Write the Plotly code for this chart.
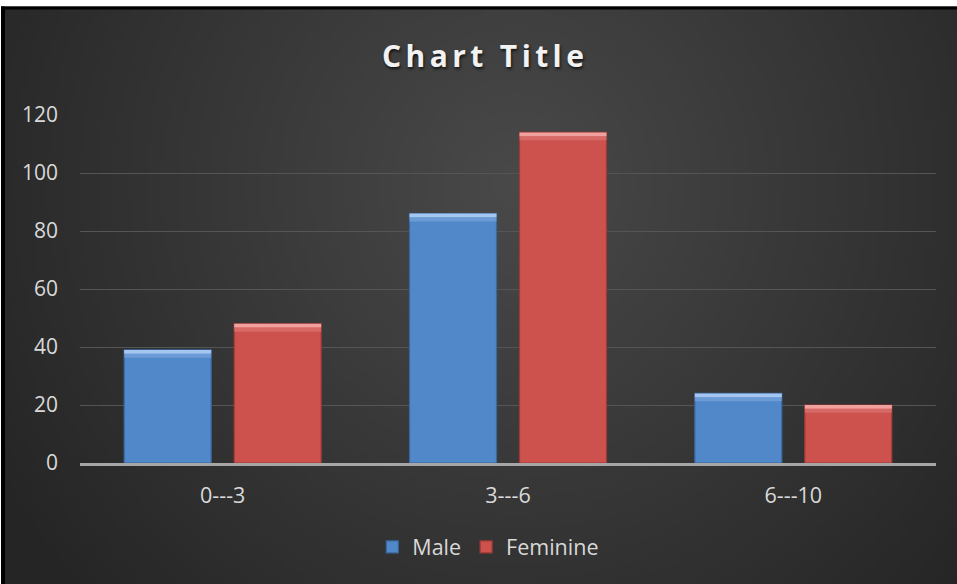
import base64, struct, zlib, math
import plotly.graph_objects as go

# ---- data ----
categories = ["0---3", "3---6", "6---10"]
male = [39, 86, 24]
feminine = [48, 114, 20]
series_names = ["Male", "Feminine"]
y_ticks = [0, 20, 40, 60, 80, 100, 120]
title_text = "Chart Title"

# ---- layout constants ----
W, H = 957, 584
ML, MR, MT, MB = 80, 21, 115, 121
PW, PH = W - ML - MR, H - MT - MB


def px_to_paper_x(px):
    return (px - ML) / PW


def px_to_paper_y(py):
    return (H - MB - py) / PH


# ---- radial gradient background as png ----
def make_png(w, h):
    rows = []
    cx, cy = 0.53, 0.30
    for j in range(h):
        row = bytearray([0])
        for i in range(w):
            nx, ny = i / (w - 1), j / (h - 1)
            d = math.sqrt(((nx - cx) / 0.62) ** 2 + ((ny - cy) / 1.05) ** 2)
            d = min(1.0, d)
            v = int(round(73 - (73 - 37) * d))
            row += bytes([v, v, v])
        rows.append(bytes(row))
    raw = b"".join(rows)

    def chunk(t, data):
        c = struct.pack(">I", len(data)) + t + data
        return c + struct.pack(">I", zlib.crc32(t + data) & 0xffffffff)

    png = b"\x89PNG\r\n\x1a\n"
    png += chunk(b"IHDR", struct.pack(">IIBBBBB", w, h, 8, 2, 0, 0, 0))
    png += chunk(b"IDAT", zlib.compress(raw, 9))
    png += chunk(b"IEND", b"")
    return "data:image/png;base64," + base64.b64encode(png).decode()


bg_src = make_png(200, 122)

blue, blue_line, blue_hi, blue_hi2 = "#5088c9", "#3a679f", "#a4c6f0", "#7ea8dd"
red, red_line, red_hi, red_hi2 = "#cd514d", "#9c3a37", "#f0a19d", "#dd7c78"

fig = go.Figure()
for name, vals, col, lc, hi, hi2, grp in [
    (series_names[0], male, blue, blue_line, blue_hi, blue_hi2, "m"),
    (series_names[1], feminine, red, red_line, red_hi, red_hi2, "f"),
]:
    fig.add_trace(go.Bar(
        x=categories, y=vals, name=name, offsetgroup=grp,
        marker=dict(color=col, line=dict(color=lc, width=1.2)),
    ))
    # bevel highlight strips at the top of each bar
    fig.add_trace(go.Bar(
        x=categories, y=[1.3] * len(vals), base=[v - 1.3 for v in vals],
        offsetgroup=grp, showlegend=False, hoverinfo="skip",
        marker=dict(color=hi, line=dict(width=0)),
    ))
    fig.add_trace(go.Bar(
        x=categories, y=[1.4] * len(vals), base=[v - 2.7 for v in vals],
        offsetgroup=grp, showlegend=False, hoverinfo="skip",
        marker=dict(color=hi2, opacity=0.6, line=dict(width=0)),
    ))

font_family = "Open Sans, Noto Sans, sans-serif"

fig.update_layout(
    width=W, height=H,
    margin=dict(l=ML, r=MR, t=MT, b=MB, pad=0),
    paper_bgcolor="#262626", plot_bgcolor="rgba(0,0,0,0)",
    barmode="group", bargap=0.229, bargroupgap=0.209,
    font=dict(family=font_family, color="#d9d9d9", size=21),
    title=dict(
        text='<span style="letter-spacing:4.4px">' + title_text + '</span>',
        x=0.507, xanchor="center", y=1 - 56 / H, yanchor="middle",
        font=dict(family=font_family, size=30, color="#f2f2f2", weight="bold",
                  shadow="1px 2px 3px rgba(0,0,0,0.7)"),
    ),
    showlegend=True,
    legend=dict(orientation="h", x=0.477, xanchor="center", y=px_to_paper_y(547),
                yanchor="middle", font=dict(size=21.5, color="#d9d9d9"),
                bgcolor="rgba(0,0,0,0)", itemwidth=30, traceorder="normal"),
    xaxis=dict(showgrid=False, showline=True, linecolor="#a6a6a6", linewidth=2.5,
               ticks="", tickfont=dict(size=21.5, color="#d9d9d9"), ticklabelstandoff=11,
               zeroline=False),
    yaxis=dict(range=[0, 120], tickvals=y_ticks, showgrid=True, gridcolor="#555555",
               gridwidth=1, zeroline=False, showline=False, ticks="",
               tickfont=dict(size=21, color="#d9d9d9"), ticklabelstandoff=21),
    images=[dict(source=bg_src, xref="paper", yref="paper",
                 x=px_to_paper_x(5), y=px_to_paper_y(9),
                 sizex=(W + 10 - 5) / PW, sizey=(H + 10 - 9) / PH,
                 xanchor="left", yanchor="top", sizing="stretch", layer="below")],
    shapes=[
        dict(type="rect", xref="paper", yref="paper", x0=px_to_paper_x(0), x1=px_to_paper_x(W),
             y0=px_to_paper_y(0), y1=px_to_paper_y(6.5), fillcolor="white", line=dict(width=0),
             layer="above"),
        dict(type="rect", xref="paper", yref="paper", x0=px_to_paper_x(1), x1=px_to_paper_x(W),
             y0=px_to_paper_y(6.5), y1=px_to_paper_y(9.5), fillcolor="black", line=dict(width=0),
             layer="above"),
        dict(type="rect", xref="paper", yref="paper", x0=px_to_paper_x(1), x1=px_to_paper_x(5),
             y0=px_to_paper_y(6.5), y1=px_to_paper_y(H), fillcolor="black", line=dict(width=0),
             layer="above"),
        dict(type="rect", xref="paper", yref="paper", x0=px_to_paper_x(0), x1=px_to_paper_x(1),
             y0=px_to_paper_y(0), y1=px_to_paper_y(H), fillcolor="white", line=dict(width=0),
             layer="above"),
    ],
)

fig.write_html("out.html", config={"displayModeBar": False},
               post_script="document.body.style.margin='0';document.body.style.overflow='hidden';")
